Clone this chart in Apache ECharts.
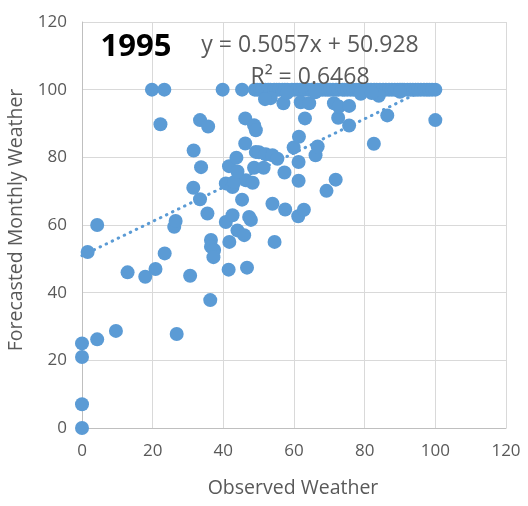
<!DOCTYPE html>
<html>
<head>
<meta charset="utf-8">
<script src="https://cdn.jsdelivr.net/npm/echarts@6/dist/echarts.min.js"></script>
<style>
html,body{margin:0;padding:0;background:#fff;}
#chart{width:528px;height:506px;}
</style>
</head>
<body>
<div id="chart"></div>
<script>
// Tick values
const xTicks = [0, 20, 40, 60, 80, 100, 120];
const yTicks = [0, 20, 40, 60, 80, 100, 120];

// Points forecast exactly at 100 (observed values)
const bandObserved = [19.8, 23.3, 39.8, 45.3, 48.9, 49.6, 50.4, 51, 51.9, 52.7, 53.3, 54.4, 55.1, 55.8,
  56.7, 57.4, 58.1, 59.4, 60.2, 60.9, 61.7, 62.5, 63.2, 64.1, 65, 65.8, 66.6, 67.4, 68.1, 68.9, 69.6,
  70.2, 71, 71.9, 72.6, 73.7, 74.3, 75.1, 76, 76.8, 77.6, 78.3, 79.2, 80.1, 81, 81.8, 82.7, 83.4, 84.3,
  85.2, 86, 86.9, 87.7, 88.5, 89.3, 90, 90.6, 91.2, 92.1, 92.9, 93.6, 94.4, 95.1, 95.9, 96.8, 97.6,
  98.3, 99.1, 100];
const bandForecast = 100;

// Remaining points
const observed = [0, 0, 0, 0, 1.6, 4.3, 4.3, 9.6, 12.9, 17.9, 20.8, 23.4, 26.1, 26.5, 26.8, 30.6, 36.3,
  22.2, 33.4, 35.7, 31.6, 33.7, 31.5, 33.4, 35.5, 36.5, 36.5, 37.4, 37.2, 41.5, 46.7, 41.7, 40.7,
  42.6, 44, 45.9, 47.3, 47.8, 45.3, 40.7, 42.6, 43.1, 46.4, 48.3, 41.6, 44, 43.7, 46.2, 46.2, 48.7,
  49.2, 48.7, 51.4, 49.2, 50.1, 52, 53.9, 55.3, 53.9, 57.5, 61.2, 62.8, 54.5, 57.3, 61.3, 61.3,
  59.9, 61.4, 63.1, 66.1, 66.7, 71.8, 69.2, 72.5, 75.6, 82.6, 86.4, 100, 53.4, 51.8, 57, 61.9,
  64.3, 71.3, 72.7, 75.6, 78.9, 84, 58, 66, 82, 90];
const forecast = [0, 7, 21, 25, 52, 60, 26.2, 28.7, 46, 44.7, 47, 51.6, 59.5, 61.2, 27.8, 45, 37.8,
  89.8, 91, 89.1, 82, 77.1, 71, 67.6, 63.4, 55.6, 53.6, 52.6, 50.5, 46.8, 47.4, 55, 60.9,
  62.9, 58.4, 57, 62.4, 61.5, 67.5, 72.3, 71.2, 72.7, 73.2, 72.5, 77.4, 75.8, 79.9, 84.1, 91.5, 89.5,
  88, 76.9, 76.9, 81.6, 81.5, 80.9, 80.6, 79.6, 66.3, 64.6, 62.6, 64.5, 55, 75.5, 73.1, 78.6,
  82.9, 86.1, 91.5, 80.6, 83.2, 73.4, 70.1, 91.7, 89.4, 84, 92.4, 91, 97.5, 97.2, 96, 96.3,
  96, 96, 95, 95.2, 98.8, 98.2, 99, 99.2, 99, 99.4];

// Linear trendline coefficients (as shown on the chart)
const slope = 0.5057;
const intercept = 50.928;
const trendX = [0, 100];

const points = [];
bandObserved.forEach(x => points.push([x, bandForecast]));
observed.forEach((x, i) => points.push([x, forecast[i]]));
const trendData = trendX.map(x => [x, slope * x + intercept]);

const FONT = 'Open Sans';
const GRAY = '#595959';

const chart = echarts.init(document.getElementById('chart'), null, {renderer: 'canvas'});
chart.setOption({
  animation: false,
  backgroundColor: '#fff',
  grid: {left: 82, right: 22, top: 22, bottom: 78, containLabel: false},
  xAxis: {
    type: 'value', min: xTicks[0], max: xTicks[xTicks.length - 1], interval: xTicks[1] - xTicks[0],
    axisLine: {show: true, lineStyle: {color: '#BFBFBF', width: 1}},
    axisTick: {show: false},
    splitLine: {show: true, lineStyle: {color: '#D9D9D9', width: 1}},
    axisLabel: {color: GRAY, fontFamily: FONT, fontSize: 17, margin: 15}
  },
  yAxis: {
    type: 'value', min: yTicks[0], max: yTicks[yTicks.length - 1], interval: yTicks[1] - yTicks[0],
    axisLine: {show: true, lineStyle: {color: '#BFBFBF', width: 1}},
    axisTick: {show: false},
    splitLine: {show: true, lineStyle: {color: '#D9D9D9', width: 1}},
    axisLabel: {color: GRAY, fontFamily: FONT, fontSize: 17, margin: 15}
  },
  graphic: [
    {type: 'text', x: 293, y: 488, z: 100, style: {text: 'Observed Weather', fill: GRAY, font: '19.5px "Open Sans"', textAlign: 'center', textVerticalAlign: 'middle'}},
    {type: 'text', x: 16, y: 220, rotation: Math.PI / 2, z: 100, style: {text: 'Forecasted Monthly Weather', fill: GRAY, font: '19.5px "Open Sans"', textAlign: 'center', textVerticalAlign: 'middle'}},
    {type: 'text', x: 136, y: 47, z: 100, style: {text: '1995', fill: '#000', font: 'bold 31px "Open Sans"', textAlign: 'center', textVerticalAlign: 'middle'}},
    {type: 'text', x: 310, y: 45, z: 100, style: {text: 'y = 0.5057x + 50.928', fill: GRAY, font: '23px "Open Sans"', textAlign: 'center', textVerticalAlign: 'middle'}},
    {type: 'text', x: 310, y: 77, z: 100, style: {text: 'R² = 0.6468', fill: GRAY, font: '23px "Open Sans"', textAlign: 'center', textVerticalAlign: 'middle'}}
  ],
  series: [
    {
      type: 'line', data: trendData, symbol: 'none', z: 2,
      lineStyle: {color: '#5B9BD5', width: 3, type: [0.5, 6.2], cap: 'round'}
    },
    {
      type: 'scatter', data: points, symbol: 'circle', symbolSize: 14, z: 3,
      itemStyle: {color: '#5B9BD5', borderWidth: 0, opacity: 1}
    }
  ]
});
</script>
</body>
</html>
